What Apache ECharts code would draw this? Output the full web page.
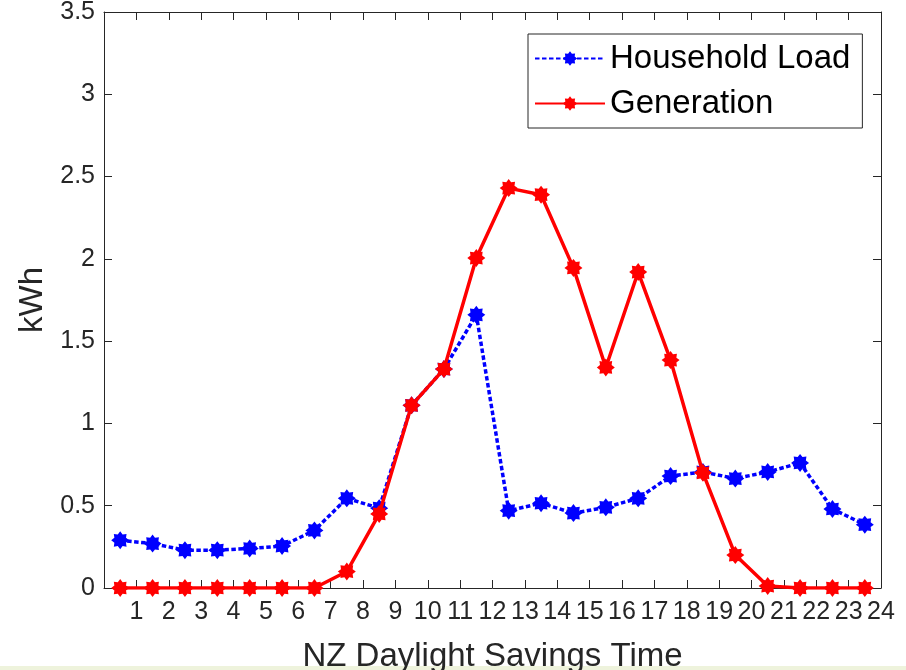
<!DOCTYPE html>
<html>
<head>
<meta charset="utf-8">
<script src="https://cdn.jsdelivr.net/npm/echarts@6/dist/echarts.min.js"></script>
<style>
html,body{margin:0;padding:0;background:#fff;}
#chart{width:906px;height:670px;}
</style>
</head>
<body>
<div id="chart"></div>
<script>
// Data (hour midpoints, NZ daylight savings time)
const hours = [0.5,1.5,2.5,3.5,4.5,5.5,6.5,7.5,8.5,9.5,10.5,11.5,12.5,13.5,14.5,15.5,16.5,17.5,18.5,19.5,20.5,21.5,22.5,23.5];
const householdLoad = [0.29,0.27,0.23,0.23,0.24,0.255,0.35,0.545,0.485,1.11,1.33,1.66,0.47,0.515,0.455,0.49,0.545,0.68,0.705,0.665,0.705,0.76,0.48,0.385];
const generation = [0,0,0,0,0,0,0,0.1,0.45,1.11,1.33,2.005,2.43,2.39,1.945,1.34,1.92,1.385,0.70,0.20,0.012,0,0,0];
const seriesNames = ['Household Load','Generation'];
const xLabel = 'NZ Daylight Savings Time';
const yLabel = 'kWh';

// asterisk-like marker shape
function starPath(points, rOut, rIn){
  let d = '';
  const n = points*2;
  for(let i=0;i<n;i++){
    const a = Math.PI*2*i/n - Math.PI/2;
    const r = (i%2===0)?rOut:rIn;
    const x = (Math.cos(a)*r).toFixed(3), y = (Math.sin(a)*r).toFixed(3);
    d += (i===0?'M':'L') + x + ' ' + y + ' ';
  }
  return 'path://' + d + 'Z';
}
const star = starPath(8, 1, 0.7);

const font = 'Liberation Sans, Arial, Helvetica, sans-serif';
const axisColor = '#262626';
const tickStyle = {show:true,inside:true,length:8,lineStyle:{color:axisColor,width:1}};
const lineStyleAx = {show:true,onZero:false,lineStyle:{color:axisColor,width:1}};

const chart = echarts.init(document.getElementById('chart'), null, {renderer:'canvas'});
const option = {
  animation:false,
  backgroundColor:'#fff',
  textStyle:{fontFamily:font},
  grid:{left:104,right:25,top:12,bottom:82,containLabel:false,outerBoundsMode:'none'},
  legend:{
    left:528, top:34,
    orient:'vertical',
    backgroundColor:'#fff',
    borderColor:axisColor, borderWidth:1,
    padding:[8,12,8,6],
    itemWidth:70, itemHeight:18, itemGap:12,
    textStyle:{fontSize:33,color:'#000',fontFamily:font},
    data:seriesNames
  },
  xAxis:[{
    type:'value', min:0, max:24, interval:1,
    name:xLabel, nameLocation:'middle', nameGap:52,
    nameTextStyle:{fontSize:33,color:axisColor,fontFamily:font},
    axisLine:lineStyleAx,
    axisTick:tickStyle,
    axisLabel:{fontSize:25,color:axisColor,margin:12,fontFamily:font,
      formatter:v=> v===0?'':String(v)},
    splitLine:{show:false}
  },{
    type:'value', min:0, max:24, interval:1, position:'top',
    axisLine:lineStyleAx,
    axisTick:tickStyle,
    axisLabel:{show:false}, splitLine:{show:false}
  }],
  yAxis:[{
    type:'value', min:0, max:3.5, interval:0.5,
    name:yLabel, nameLocation:'middle', nameGap:46, nameRotate:90,
    nameTextStyle:{fontSize:33,color:axisColor,fontFamily:font},
    axisLine:lineStyleAx,
    axisTick:tickStyle,
    axisLabel:{fontSize:25,color:axisColor,margin:9,fontFamily:font},
    splitLine:{show:false}
  },{
    type:'value', min:0, max:3.5, interval:0.5, position:'right',
    axisLine:lineStyleAx,
    axisTick:tickStyle,
    axisLabel:{show:false}, splitLine:{show:false}
  }],
  series:[{
    name:seriesNames[0], type:'line',
    data:hours.map((h,i)=>[h,householdLoad[i]]),
    symbol:star, symbolSize:18, showAllSymbol:true,
    itemStyle:{color:'#0000ff'},
    lineStyle:{color:'#0000ff',width:3.5,type:[4.5,2.5]},
    z:3
  },{
    name:seriesNames[1], type:'line',
    data:hours.map((h,i)=>[h,generation[i]]),
    symbol:star, symbolSize:18, showAllSymbol:true,
    itemStyle:{color:'#ff0000'},
    lineStyle:{color:'#ff0000',width:3.5,type:'solid'},
    z:4
  }],
  graphic:[{
    type:'rect', left:0, top:666, shape:{width:906,height:4},
    style:{fill:'#eef3dc'}, silent:true
  }]
};
chart.setOption(option);
</script>
</body>
</html>
